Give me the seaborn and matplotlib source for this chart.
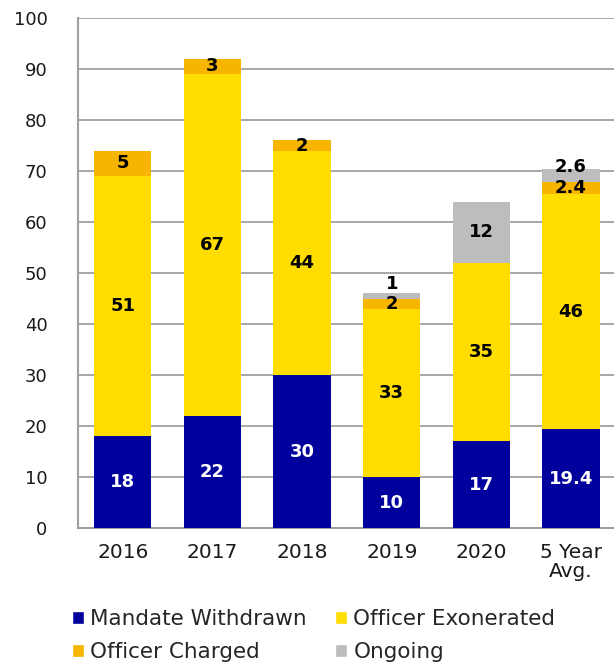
import pandas as pd
import matplotlib
matplotlib.use("Agg")
import matplotlib.pyplot as plt
from matplotlib.patches import Patch
import seaborn as sns

# Chart data
CATEGORIES = ["2016", "2017", "2018", "2019", "2020", "5 Year\nAvg."]
MANDATE_WITHDRAWN = [18, 22, 30, 10, 17, 19.4]
OFFICER_EXONERATED = [51, 67, 44, 33, 35, 46]
OFFICER_CHARGED = [5, 3, 2, 2, 0, 2.4]
ONGOING = [0, 0, 0, 1, 12, 2.6]
Y_TICKS = [0, 10, 20, 30, 40, 50, 60, 70, 80, 90, 100]

SERIES = [
    ("Mandate Withdrawn", MANDATE_WITHDRAWN, "#00009C", "white"),
    ("Officer Exonerated", OFFICER_EXONERATED, "#FFDD00", "black"),
    ("Officer Charged", OFFICER_CHARGED, "#F7B500", "black"),
    ("Ongoing", ONGOING, "#BDBDBD", "black"),
]

sns.set_style("white")
plt.rcParams['font.family'] = ['DejaVu Sans']

fig = plt.figure(figsize=(6.14, 6.62), dpi=100)
ax = fig.add_axes([0.127, 0.2024, 0.873, 0.7704])

bottoms = [0.0] * len(CATEGORIES)
for name, values, color, txt_color in SERIES:
    df = pd.DataFrame({"cat": CATEGORIES, "val": values})
    sns.barplot(data=df, x="cat", y="val", order=CATEGORIES, color=color,
                width=0.64, bottom=bottoms, saturation=1, ax=ax,
                edgecolor="none", linewidth=0, zorder=3)
    for i, v in enumerate(values):
        if v == 0:
            continue
        y = bottoms[i] + v / 2
        # small slices get their label pushed above the bar
        if name == "Ongoing" and v < 5:
            y = bottoms[i] + v + 1.8 if v < 2 else bottoms[i] + v + 0.4
        ax.text(i, y, f"{v:g}", ha="center", va="center", color=txt_color,
                fontsize=13, fontweight="bold", zorder=4)
    bottoms = [b + v for b, v in zip(bottoms, values)]

ax.set_ylim(0, 100)
ax.set_xlim(-0.5, 5.48)
ax.set_yticks(Y_TICKS)
ax.set_xlabel("")
ax.set_ylabel("")
ax.grid(axis="y", color="#A0A0A0", linewidth=1.3, zorder=0)
ax.set_axisbelow(True)
for side in ["top", "right"]:
    ax.spines[side].set_visible(False)
for side in ["left", "bottom"]:
    ax.spines[side].set_color("#A0A0A0")
    ax.spines[side].set_linewidth(1.5)
ax.tick_params(axis="both", length=0, colors="#1a1a1a")
ax.tick_params(axis="x", pad=11, labelsize=14.5)
ax.tick_params(axis="y", pad=22, labelsize=13)
for lbl in ax.get_xticklabels():
    lbl.set_linespacing(0.95)

# legend (row-wise order for 2 columns)
handles = [Patch(facecolor=c, label=n) for n, _, c, _ in SERIES]
order = [0, 2, 1, 3]
fig.legend([handles[i] for i in order], [handles[i].get_label() for i in order],
           ncol=2, loc="lower left", bbox_to_anchor=(0.086, -0.03),
           frameon=False, fontsize=15.5, handlelength=0.55, handleheight=0.55,
           handletextpad=0.3, columnspacing=1.3, labelspacing=0.62)

fig.savefig("out.png", dpi=100)
